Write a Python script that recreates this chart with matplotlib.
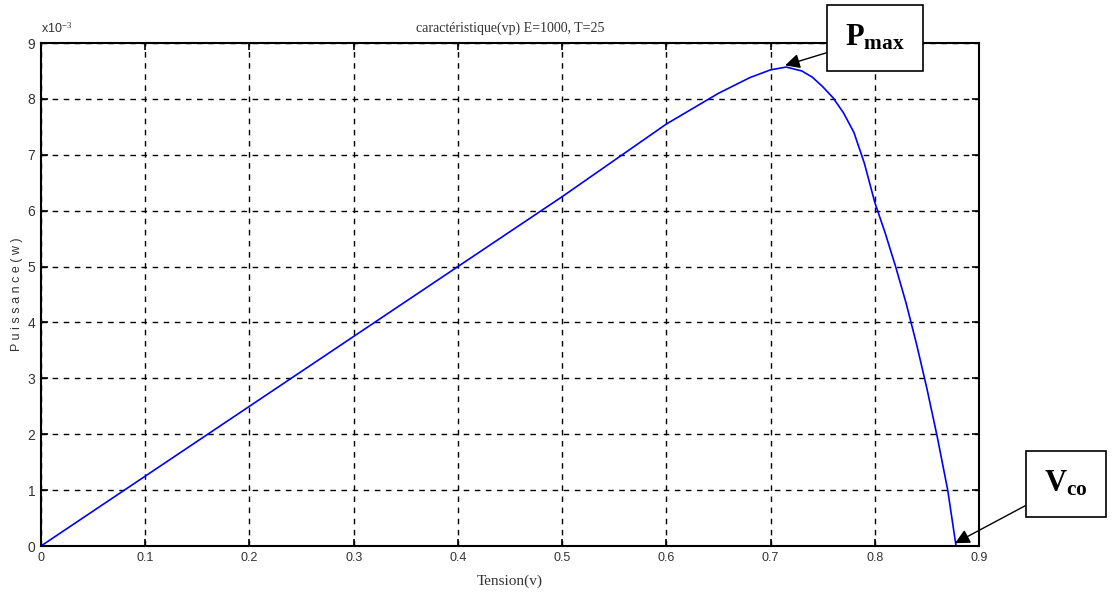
import matplotlib
matplotlib.use("Agg")
import matplotlib.pyplot as plt

plt.rcParams['mathtext.fontset'] = 'custom'
plt.rcParams['mathtext.rm'] = 'Liberation Serif'
plt.rcParams['mathtext.bf'] = 'Liberation Serif:bold'
plt.rcParams['mathtext.it'] = 'Liberation Serif:italic'

# points (P in units of 1e-3 W)
tension = [0, 0.1, 0.2, 0.3, 0.4, 0.5, 0.55, 0.6, 0.65, 0.68, 0.70, 0.715,
           0.73, 0.74, 0.75, 0.76, 0.77, 0.78, 0.79, 0.80, 0.81, 0.82,
           0.83, 0.84, 0.85, 0.86, 0.87, 0.878]
puissance = [0, 1.25, 2.5, 3.75, 5.0, 6.25, 6.9, 7.55, 8.1, 8.38, 8.52, 8.57,
             8.5, 8.39, 8.22, 8.02, 7.75, 7.4, 6.85, 6.15, 5.6, 5.0,
             4.35, 3.62, 2.82, 1.95, 1.0, 0]
xticks = [0, 0.1, 0.2, 0.3, 0.4, 0.5, 0.6, 0.7, 0.8, 0.9]
yticks = [0, 1, 2, 3, 4, 5, 6, 7, 8, 9]

fig = plt.figure(figsize=(11.14, 6.06), dpi=100)
ax = fig.add_axes([0.0368, 0.099, 0.842, 0.830])

ax.plot(tension, puissance, color='blue', lw=1.2)
ax.set_xlim(0, 0.9)
ax.set_ylim(0, 9)
ax.set_xticks(xticks)
ax.set_yticks(yticks)
ax.set_xticklabels([f"{t:g}" for t in xticks], fontsize=9, color='#333333',
                   family='Liberation Sans')
ax.set_yticklabels([str(t) for t in yticks], fontsize=10, color='#333333',
                   family='Liberation Sans')
ax.tick_params(direction='in', top=True, right=True, length=5, width=1.2, pad=4)
ax.grid(True, color='black', linestyle=(0, (4, 4)), lw=1)
for s in ax.spines.values():
    s.set_linewidth(1.5)

ax.set_title("caractéristique(vp) E=1000, T=25", fontsize=10,
             family='Liberation Serif', color='#333333', pad=8)
ax.set_xlabel("Tension(v)", fontsize=11, family='Liberation Serif',
              color='#333333', labelpad=8)
ax.set_ylabel("P u i s s a n c e ( w )", fontsize=9, family='Liberation Sans',
              color='#333333', labelpad=3)
ax.text(0.0, 1.02, r"x10$^{-3}$", transform=ax.transAxes, fontsize=9,
        family='Liberation Sans', color='#333333')

box = dict(boxstyle='square,pad=0.6', fc='white', ec='black', lw=1.2)
arrow = dict(arrowstyle='-|>', color='black', lw=1, mutation_scale=22,
             shrinkA=0, shrinkB=0)
ax.annotate(r"P$_{\mathbf{max}}$", xy=(0.714, 8.6), xytext=(875, 568),
            textcoords='figure pixels', ha='center', va='center',
            fontsize=22, fontweight='bold', family='Liberation Serif',
            bbox=box, arrowprops=arrow, annotation_clip=False)
ax.annotate(r"V$_{\mathbf{co}}$", xy=(0.877, 0.05), xytext=(1066, 122),
            textcoords='figure pixels', ha='center', va='center',
            fontsize=22, fontweight='bold', family='Liberation Serif',
            bbox=box, arrowprops=arrow, annotation_clip=False)

fig.savefig("out.png", dpi=100)
